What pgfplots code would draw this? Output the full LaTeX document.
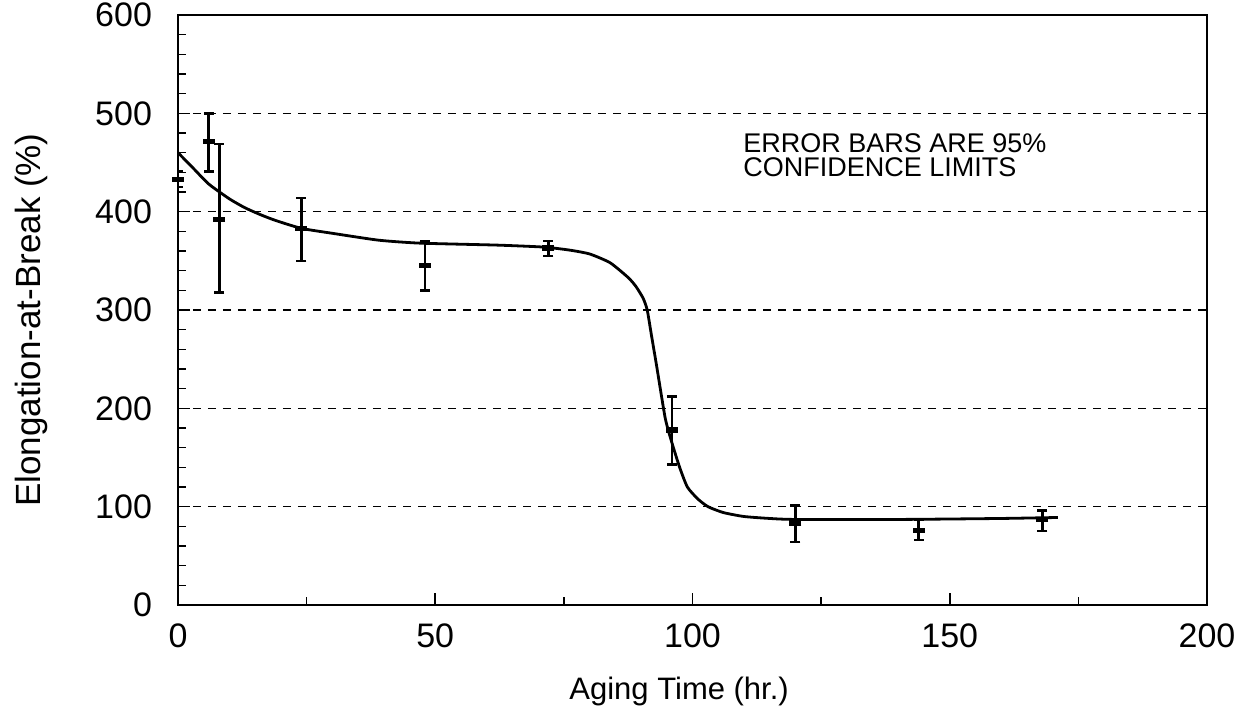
\documentclass[border=0pt]{standalone}
\usepackage{fontspec}
\setmainfont{Liberation Sans}
\usepackage{pgfplots}
\pgfplotsset{compat=1.18}
\begin{document}
\begin{tikzpicture}[x=1pt,y=1pt]
\useasboundingbox (-89,-58) rectangle (534.5,302.5);
\begin{axis}[
  scale only axis, width=514.5pt, height=295pt,
  at={(0,0)}, anchor=south west,
  xmin=0, xmax=200, ymin=0, ymax=600,
  /pgf/number format/assume math mode=true,
  axis line style={line width=1.2pt},
  xtick={0,50,100,150,200}, ytick={0,100,200,300,400,500,600},
  minor xtick={25,75,125,175},
  minor ytick={20,40,60,80,120,140,160,180,220,240,260,280,320,340,360,380,420,440,460,480,520,540,560,580},
  tick align=inside, xtick pos=bottom, ytick pos=left,
  major tick length=6pt, minor tick length=4pt,
  tick style={black, line width=0.8pt},
  ymajorgrids,
  major grid style={black, line width=0.8pt, dash pattern=on 4pt off 3.5pt},
  xticklabel style={font=\fontsize{17}{17}\selectfont, yshift=-6pt},
  yticklabel style={font=\fontsize{17}{17}\selectfont, xshift=-9.5pt},
  every axis x label/.style={at={(axis description cs:0.487,-0.161)}, anchor=base, font=\fontsize{15.5}{15.5}\selectfont},
  every axis y label/.style={at={(axis description cs:-0.134,0.483)}, anchor=base, rotate=90, font=\fontsize{17.5}{17.5}\selectfont},
  xlabel={Aging Time (hr.)},
  ylabel={Elongation-at-Break (\%)},
]
% fitted curve
\addplot[black, line width=1.4pt, smooth, tension=0.35] coordinates {
(0,460) (3,444) (6,428) (10,413) (13,404) (16,397) (19,391) (24,383) (30,378)
(39,371) (47,368) (62,366) (71,364) (76,361) (80,357) (84,348) (87.5,333)
(89,324) (90.4,312) (91.2,300) (92,275) (93,244) (94.7,190) (96,165) (97.5,140)
(99,120) (101,108) (103,100) (106,94) (110,90) (115,88) (120,87) (140,87)
(160,88) (171,89)
};
% data with 95% confidence limits
\addplot[black, only marks, mark=-, mark size=3pt, mark options={line width=2.6pt},
  error bars/.cd, y dir=both, y explicit,
  error bar style={line width=1.4pt},
  error mark options={rotate=90, mark size=2.5pt, line width=1.2pt}]
  table[x=x, y=y, y error plus=ep, y error minus=em] {
x y ep em
0 433 8 8
6 471 29 30
8 392 77 74
24 383 31 33
48 345 25 25
72 363 7 8
96 178 34 35
120 83 18 19
144 76 11 10
168 87 9 12
};
\node[anchor=north west, align=left, font=\fontsize{13.5}{12.2}\selectfont, inner sep=0pt] at (axis cs:109.8,480) {ERROR BARS ARE 95\%\\CONFIDENCE LIMITS};
\end{axis}
\end{tikzpicture}
\end{document}
